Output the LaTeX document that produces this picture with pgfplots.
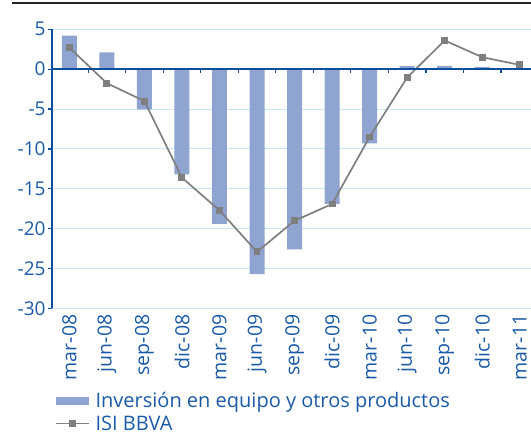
\documentclass[border=0pt]{standalone}
\usepackage{fontspec}
\setmainfont{Open Sans}
\usepackage{pgfplots}
\pgfplotsset{compat=1.18}
\definecolor{txtblue}{HTML}{1A5AA6}
\definecolor{axblue}{HTML}{0A4F9E}
\definecolor{gridblue}{HTML}{C8E8F8}
\definecolor{barblue}{HTML}{8FA4D0}
\definecolor{linegray}{HTML}{7F7F7F}
\begin{document}
\begin{tikzpicture}[x=1pt,y=1pt]
\useasboundingbox (0,0) rectangle (531,438);
\draw[line width=1.6pt, color=black!85] (12,435) -- (531,435);
\begin{axis}[
  at={(51.7pt,129.5pt)}, anchor=south west,
  scale only axis, width=479.3pt, height=279.2pt,
  xmin=-0.47, xmax=12.3, ymin=-30, ymax=5,
  axis x line*=bottom, axis y line*=left,
  x axis line style={draw=none},
  y axis line style={draw=axblue, line width=1.8pt},
  xtick={0,...,12},
  xticklabels={mar-08,jun-08,sep-08,dic-08,mar-09,jun-09,sep-09,dic-09,mar-10,jun-10,sep-10,dic-10,mar-11},
  major x tick style={draw=none},
  xticklabel style={rotate=90, anchor=east, font=\fontsize{19.5}{19.5}\selectfont, text=txtblue, inner sep=2pt},
  ytick={-30,-25,...,5},
  yticklabels={-30,-25,-20,-15,-10,-5,0,5},
  yticklabel style={font=\fontsize{19}{19}\selectfont, text=txtblue, inner sep=2pt},
  tick align=outside, major tick length=4pt,
  major y tick style={draw=axblue, line width=1.2pt},
  ymajorgrids, grid style={gridblue, line width=1pt},
  clip=false,
  legend style={at={(0.0,-0.287)}, anchor=north west, draw=none, fill=none,
    font=\fontsize{20}{20}\selectfont, text=txtblue, row sep=3.5pt,
    nodes={inner xsep=6pt, inner ysep=1.5pt},
    legend cell align=left},
]
\addplot[ybar, bar width=15pt, fill=barblue, draw=none,
  legend image code/.code={\fill[barblue] (0pt,-4pt) rectangle (33pt,4pt);}]
  coordinates {(0,4.2) (1,2.1) (2,-5.05) (3,-13.2) (4,-19.4) (5,-25.7) (6,-22.6) (7,-16.9) (8,-9.3) (9,0.4) (10,0.4) (11,0.3)};
\addlegendentry{Inversión en equipo y otros productos}
\addplot[linegray, line width=1.7pt, mark=square*, mark size=2.6pt, mark options={fill=linegray, draw=linegray},
  legend image code/.code={\draw[linegray, line width=1.7pt] (0pt,0pt) -- (33pt,0pt); \fill[linegray] (14pt,-2.6pt) rectangle (19.2pt,2.6pt);}]
  coordinates {(0,2.7) (1,-1.76) (2,-4.0) (3,-13.6) (4,-17.7) (5,-22.9) (6,-19.0) (7,-16.9) (8,-8.5) (9,-1.05) (10,3.6) (11,1.5) (12,0.54)};
\addlegendentry{ISI BBVA}
\draw[axblue, line width=1.8pt] (axis cs:-0.47,0) -- (axis cs:12.3,0);
\pgfplotsinvokeforeach{0,...,11}{\draw[axblue, line width=1.2pt] (axis cs:#1+0.5,0) -- ++(0pt,-4pt);}
\end{axis}
\end{tikzpicture}
\end{document}
